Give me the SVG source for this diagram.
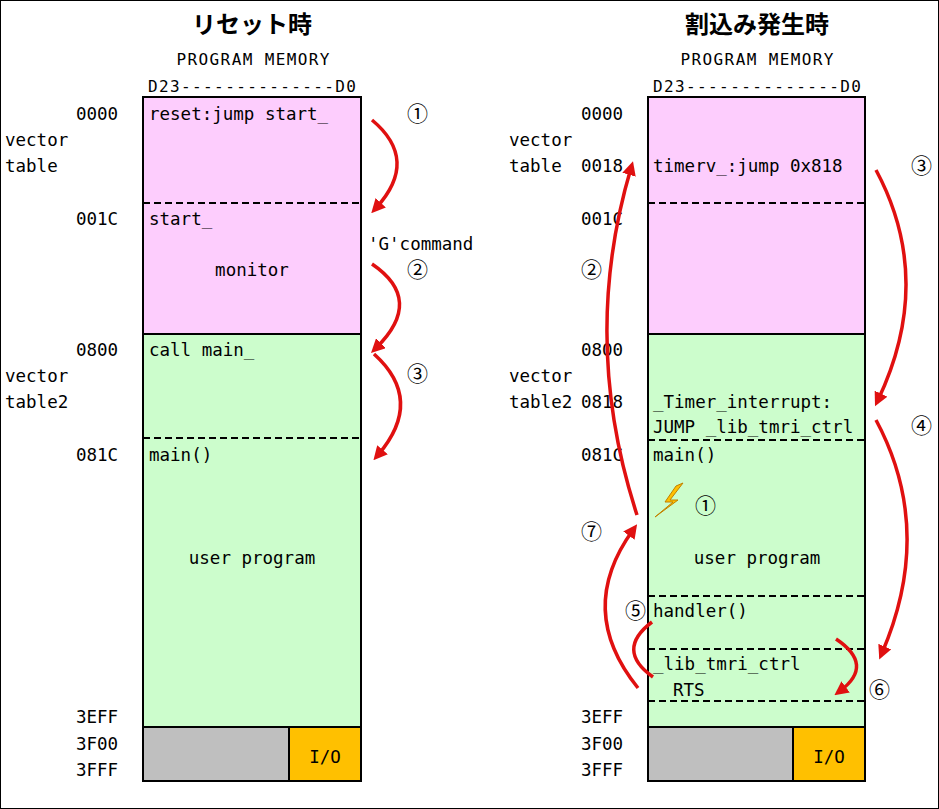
<svg xmlns="http://www.w3.org/2000/svg" width="939" height="809" viewBox="0 0 939 809">
<style>
text{font-family:"DejaVu Sans Mono","Liberation Mono",monospace;font-size:17.5px;fill:#000}
.t{font-family:"Noto Sans CJK JP",sans-serif;font-size:24px;font-weight:bold}
.s{font-size:16px}
.c{font-family:"Noto Sans CJK JP",sans-serif;font-size:21px}
.pk{fill:#fdcdfd;stroke:#000;stroke-width:2}
.gr{fill:#ccfdcc;stroke:#000;stroke-width:2}
.gy{fill:#bfbfbf;stroke:#000;stroke-width:2}
.io{fill:#ffc000;stroke:#000;stroke-width:2}
.d{stroke:#000;stroke-width:2;stroke-dasharray:7,4;fill:none}
.a{fill:none;stroke:#e01010;stroke-width:3.5}
</style>
<defs><marker id="h" viewBox="0 0 10 10" refX="5" refY="5" markerWidth="4" markerHeight="4" orient="auto"><path d="M0,0L10,5L0,10z" fill="#e01010"/></marker></defs>
<rect x="0.5" y="0.5" width="938" height="808" fill="#fff" stroke="#000"/>
<text class="t" x="252" y="33" text-anchor="middle">リセット時</text>
<text class="t" x="757" y="33" text-anchor="middle">割込み発生時</text>
<text class="s" x="253" y="65" text-anchor="middle" textLength="153">PROGRAM MEMORY</text>
<text class="s" x="757" y="65" text-anchor="middle" textLength="153">PROGRAM MEMORY</text>
<text class="s" x="252" y="92" text-anchor="middle" textLength="208">D23--------------D0</text>
<text class="s" x="757" y="92" text-anchor="middle" textLength="208">D23--------------D0</text>
<g id="left">
<rect class="pk" x="143" y="97" width="218" height="237"/>
<rect class="gr" x="143" y="334" width="218" height="393"/>
<rect class="gy" x="143" y="727" width="218" height="54"/>
<rect class="io" x="289" y="727" width="72" height="54"/>
<line class="d" x1="143" y1="203" x2="361" y2="203"/>
<line class="d" x1="143" y1="438" x2="361" y2="438"/>
<text x="149" y="120">reset:jump start_</text>
<text x="149" y="225">start_</text>
<text x="252" y="276" text-anchor="middle">monitor</text>
<text x="149" y="356">call main_</text>
<text x="149" y="461">main()</text>
<text x="252" y="564" text-anchor="middle">user program</text>
<text x="325" y="763" text-anchor="middle">I/O</text>
<text x="76" y="120">0000</text>
<text x="5" y="146">vector</text><text x="5" y="172">table</text>
<text x="76" y="225">001C</text>
<text x="76" y="356">0800</text>
<text x="5" y="382">vector</text><text x="5" y="408">table2</text>
<text x="76" y="461">081C</text>
<text x="76" y="723">3EFF</text>
<text x="76" y="750">3F00</text>
<text x="76" y="776">3FFF</text>
</g>
<g id="right">
<rect class="pk" x="648" y="97" width="217" height="237"/>
<rect class="gr" x="648" y="334" width="217" height="393"/>
<rect class="gy" x="648" y="727" width="217" height="54"/>
<rect class="io" x="793" y="727" width="72" height="54"/>
<line class="d" x1="648" y1="203" x2="865" y2="203"/>
<line class="d" x1="648" y1="440" x2="865" y2="440"/>
<line class="d" x1="648" y1="596" x2="865" y2="596"/>
<line class="d" x1="648" y1="649" x2="865" y2="649"/>
<line class="d" x1="648" y1="701" x2="865" y2="701"/>
<text x="653" y="172">timerv_:jump 0x818</text>
<text x="653" y="408">_Timer_interrupt:</text>
<text x="653" y="433">JUMP _lib_tmri_ctrl</text>
<text x="653" y="461">main()</text>
<text x="757" y="564" text-anchor="middle">user program</text>
<text x="653" y="617">handler()</text>
<text x="653" y="670">_lib_tmri_ctrl</text>
<text x="673" y="696">RTS</text>
<text x="829" y="763" text-anchor="middle">I/O</text>
<polygon points="683,483 670,500 678,500 655,517 673,502 665,502 676,486" fill="#ffc000" stroke="#c08000" stroke-width="1"/>
<text x="581" y="120">0000</text>
<text x="509" y="146">vector</text><text x="509" y="172">table</text>
<text x="581" y="172">0018</text>
<text x="581" y="225">001C</text>
<text x="581" y="356">0800</text>
<text x="509" y="382">vector</text><text x="509" y="408">table2</text>
<text x="581" y="408">0818</text>
<text x="581" y="461">081C</text>
<text x="581" y="723">3EFF</text>
<text x="581" y="750">3F00</text>
<text x="581" y="776">3FFF</text>
</g>
<g id="connectors">
<path class="a" d="M372,120 Q420,160 376,208" marker-end="url(#h)"/>
<path class="a" d="M372,264 Q425,300 376,348" marker-end="url(#h)"/>
<path class="a" d="M374,354 Q425,400 378,455" marker-end="url(#h)"/>
<path class="a" d="M876,170 Q935,280 878,400" marker-end="url(#h)"/>
<path class="a" d="M876,420 Q935,530 882,653" marker-end="url(#h)"/>
<path class="a" d="M637,515 Q580,340 631,168" marker-end="url(#h)"/>
<path class="a" d="M638,688 Q575,610 633,530" marker-end="url(#h)"/>
<path class="a" d="M652,622 Q615,650 653,677"/>
<path class="a" d="M836,639 Q875,665 840,691" marker-end="url(#h)"/>
</g>
<g id="labels">
<text class="c" x="407" y="121">①</text>
<text class="c" x="407" y="277">②</text>
<text x="368" y="250">'G'command</text>
<text class="c" x="407" y="381">③</text>
<text class="c" x="911" y="173">③</text>
<text class="c" x="911" y="433">④</text>
<text class="c" x="581" y="277">②</text>
<text class="c" x="695" y="513">①</text>
<text class="c" x="581" y="539">⑦</text>
<text class="c" x="625" y="618">⑤</text>
<text class="c" x="869" y="697">⑥</text>
</g>
</svg>
